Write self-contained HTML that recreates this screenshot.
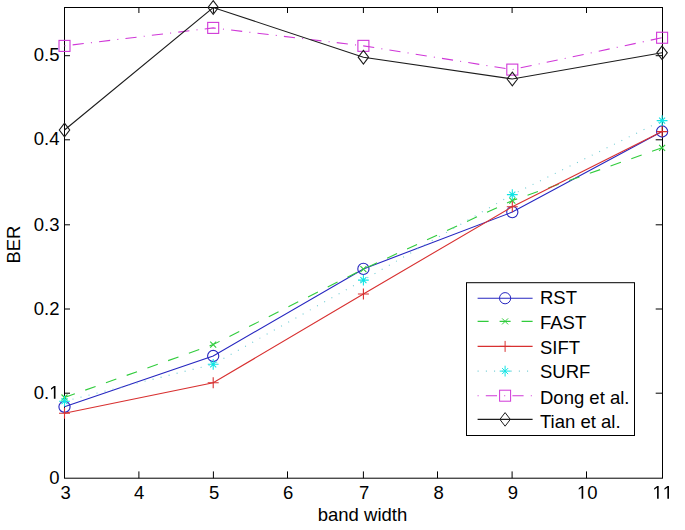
<!DOCTYPE html>
<html><head><meta charset="utf-8"><style>
html,body{margin:0;padding:0;background:#fff;}
svg{display:block;}
text{font-family:"Liberation Sans",sans-serif;font-size:18.5px;fill:#000;}
</style></head><body>
<svg width="685" height="530" viewBox="0 0 685 530">
<rect width="685" height="530" fill="#fff"/>
<rect x="64.5" y="7.5" width="598.0" height="470.7" fill="#fff" stroke="#000"/>
<path d="M138.9 478.2V471.4M138.9 7.5V13.0M213.4 478.2V471.4M213.4 7.5V13.0M287.5 478.2V471.4M287.5 7.5V13.0M363.4 478.2V471.4M363.4 7.5V13.0M437.5 478.2V471.4M437.5 7.5V13.0M512.1 478.2V471.4M512.1 7.5V13.0M586.5 478.2V471.4M586.5 7.5V13.0M64.5 393.2H70.0M662.5 393.2H655.7M64.5 309.0H70.0M662.5 309.0H655.7M64.5 224.8H70.0M662.5 224.8H655.7M64.5 139.8H70.0M662.5 139.8H655.7M64.5 55.7H70.0M662.5 55.7H655.7" stroke="#000" fill="none"/>
<text x="60.56" y="498.8">3</text>
<text x="134.11" y="498.8">4</text>
<text x="209.06" y="498.8">5</text>
<text x="283.06" y="498.8">6</text>
<text x="358.96" y="498.8">7</text>
<text x="433.56" y="498.8">8</text>
<text x="507.66" y="498.8">9</text>
<path transform="translate(576.96 498.8) scale(0.009033 -0.009033)" d="M515 0L515 1237L197 1010L197 1180L530 1409L696 1409L696 0Z" fill="#000"/>
<text x="587.25" y="498.8">0</text>
<path transform="translate(652.41 498.8) scale(0.009033 -0.009033)" d="M515 0L515 1237L197 1010L197 1180L530 1409L696 1409L696 0Z" fill="#000"/>
<path transform="translate(662.70 498.8) scale(0.009033 -0.009033)" d="M515 0L515 1237L197 1010L197 1180L530 1409L696 1409L696 0Z" fill="#000"/>
<text x="49.21" y="483.9">0</text>
<text x="33.78" y="398.8">0.</text>
<path transform="translate(49.21 398.8) scale(0.009033 -0.009033)" d="M515 0L515 1237L197 1010L197 1180L530 1409L696 1409L696 0Z" fill="#000"/>
<text x="33.78" y="314.6">0.2</text>
<text x="33.78" y="230.8">0.3</text>
<text x="33.78" y="145.1">0.4</text>
<text x="33.78" y="61.3">0.5</text>
<text x="362.5" y="521.3" text-anchor="middle">band width</text>
<text transform="translate(19.9 244.6) rotate(-90)" text-anchor="middle">BER</text>
<g stroke-width="1.1">
<polyline points="64.5,406.8 213.2,356.0 363.4,268.9 512.3,212.1 662.1,131.5" fill="none" stroke="#2626c0"/>
<circle cx="64.5" cy="406.8" r="5.6" fill="none" stroke="#2626c0"/>
<circle cx="213.2" cy="356.0" r="5.6" fill="none" stroke="#2626c0"/>
<circle cx="363.4" cy="268.9" r="5.6" fill="none" stroke="#2626c0"/>
<circle cx="512.3" cy="212.1" r="5.6" fill="none" stroke="#2626c0"/>
<circle cx="662.1" cy="131.5" r="5.6" fill="none" stroke="#2626c0"/>
<polyline points="64.5,397.5 213.2,344.6 363.4,269.1 512.3,200.6 662.1,147.8" fill="none" stroke="#30cc3c" stroke-dasharray="11 11"/>
<path d="M61.5 394.5L67.5 400.5M61.5 400.5L67.5 394.5" stroke="#30cc3c"/>
<path d="M210.2 341.6L216.2 347.6M210.2 347.6L216.2 341.6" stroke="#30cc3c"/>
<path d="M360.4 266.1L366.4 272.1M360.4 272.1L366.4 266.1" stroke="#30cc3c"/>
<path d="M509.29999999999995 197.6L515.3 203.6M509.29999999999995 203.6L515.3 197.6" stroke="#30cc3c"/>
<path d="M659.1 144.8L665.1 150.8M659.1 150.8L665.1 144.8" stroke="#30cc3c"/>
<polyline points="64.5,413.2 213.2,382.8 363.4,294.0 512.3,206.7 662.1,131.6" fill="none" stroke="#d83030"/>
<path d="M59.0 413.2H70.0M64.5 407.7V418.7" stroke="#d83030"/>
<path d="M207.7 382.8H218.7M213.2 377.3V388.3" stroke="#d83030"/>
<path d="M357.9 294.0H368.9M363.4 288.5V299.5" stroke="#d83030"/>
<path d="M506.79999999999995 206.7H517.8M512.3 201.2V212.2" stroke="#d83030"/>
<path d="M656.6 131.6H667.6M662.1 126.1V137.1" stroke="#d83030"/>
<polyline points="64.5,401.2 213.2,364.3 363.4,280.1 512.3,194.6 662.1,120.6" fill="none" stroke="#70ccd4" stroke-dasharray="1 7.25"/>
<path d="M59.1 401.2H69.9M64.5 395.8V406.59999999999997M61.5 398.2L67.5 404.2M61.5 404.2L67.5 398.2" stroke="#10e4e4"/>
<path d="M207.79999999999998 364.3H218.6M213.2 358.90000000000003V369.7M210.2 361.3L216.2 367.3M210.2 367.3L216.2 361.3" stroke="#10e4e4"/>
<path d="M358.0 280.1H368.79999999999995M363.4 274.70000000000005V285.5M360.4 277.1L366.4 283.1M360.4 283.1L366.4 277.1" stroke="#10e4e4"/>
<path d="M506.9 194.6H517.6999999999999M512.3 189.2V200.0M509.29999999999995 191.6L515.3 197.6M509.29999999999995 197.6L515.3 191.6" stroke="#10e4e4"/>
<path d="M656.7 120.6H667.5M662.1 115.19999999999999V126.0M659.1 117.6L665.1 123.6M659.1 123.6L665.1 117.6" stroke="#10e4e4"/>
<polyline points="64.5,45.9 213.2,27.9 363.4,45.85 512.3,69.6 662.1,37.75" fill="none" stroke="#d038d8" stroke-dasharray="1 7.2 11.2 7.2"/>
<rect x="59.0" y="40.4" width="11.0" height="11.0" fill="none" stroke="#d038d8"/>
<rect x="207.7" y="22.4" width="11.0" height="11.0" fill="none" stroke="#d038d8"/>
<rect x="357.9" y="40.35" width="11.0" height="11.0" fill="none" stroke="#d038d8"/>
<rect x="506.79999999999995" y="64.1" width="11.0" height="11.0" fill="none" stroke="#d038d8"/>
<rect x="656.6" y="32.25" width="11.0" height="11.0" fill="none" stroke="#d038d8"/>
<polyline points="64.5,130.0 213.2,7.5 363.4,57.2 512.3,79.0 662.1,52.8" fill="none" stroke="#1c1c1c"/>
<path d="M64.5 123.2L69.7 130.0L64.5 136.8L59.3 130.0Z" fill="none" stroke="#1c1c1c"/>
<path d="M213.2 0.7000000000000002L218.39999999999998 7.5L213.2 14.3L208.0 7.5Z" fill="none" stroke="#1c1c1c"/>
<path d="M363.4 50.400000000000006L368.59999999999997 57.2L363.4 64.0L358.2 57.2Z" fill="none" stroke="#1c1c1c"/>
<path d="M512.3 72.2L517.5 79.0L512.3 85.8L507.09999999999997 79.0Z" fill="none" stroke="#1c1c1c"/>
<path d="M662.1 46.0L667.3000000000001 52.8L662.1 59.599999999999994L656.9 52.8Z" fill="none" stroke="#1c1c1c"/>
</g>
<rect x="466.5" y="282.7" width="168.0" height="152.8" fill="#fff" stroke="#000"/>
<path d="M477.6 298.2H532.6" fill="none" stroke-width="1.1" stroke="#2626c0"/>
<circle cx="505.1" cy="298.2" r="5.6" fill="none" stroke="#2626c0"/>
<text x="540" y="304.4">RST</text>
<path d="M477.6 321.4H532.6" fill="none" stroke-width="1.1" stroke="#30cc3c" stroke-dasharray="11 11"/>
<path d="M502.1 318.4L508.1 324.4M502.1 324.4L508.1 318.4" stroke="#30cc3c"/>
<text x="540" y="329.3">FAST</text>
<path d="M477.6 346.4H532.6" fill="none" stroke-width="1.1" stroke="#d83030"/>
<path d="M499.6 346.4H510.6M505.1 340.9V351.9" stroke="#d83030"/>
<text x="540" y="353.6">SIFT</text>
<path d="M477.6 371.1H532.6" fill="none" stroke-width="1.1" stroke="#70ccd4" stroke-dasharray="1 7.25"/>
<path d="M499.70000000000005 371.1H510.5M505.1 365.70000000000005V376.5M502.1 368.1L508.1 374.1M502.1 374.1L508.1 368.1" stroke="#10e4e4"/>
<text x="540" y="378.4">SURF</text>
<path d="M477.6 395.7H532.6" fill="none" stroke-width="1.1" stroke="#d038d8" stroke-dasharray="1 7.2 11.2 7.2"/>
<rect x="499.6" y="390.2" width="11.0" height="11.0" fill="none" stroke="#d038d8"/>
<text x="540" y="403.8">Dong et al.</text>
<path d="M477.6 419.4H532.6" fill="none" stroke-width="1.1" stroke="#1c1c1c"/>
<path d="M505.1 412.59999999999997L510.3 419.4L505.1 426.2L499.90000000000003 419.4Z" fill="none" stroke="#1c1c1c"/>
<text x="540" y="428.3">Tian et al.</text>
</svg>
</body></html>
